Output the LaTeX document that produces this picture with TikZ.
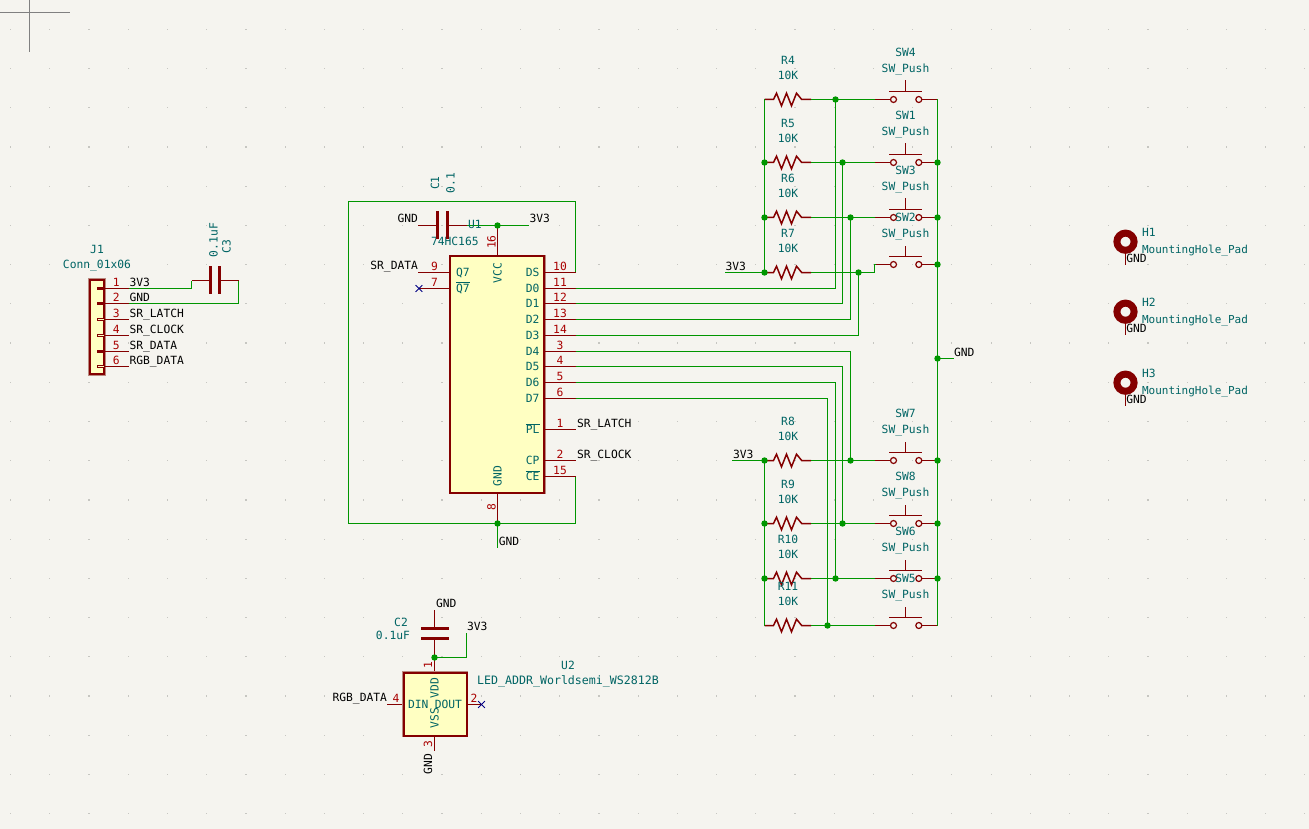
\documentclass[tikz,border=0pt]{standalone}
\usepackage{fontspec}
\usetikzlibrary{calc}
\setmainfont{DejaVu Sans Mono}
\definecolor{bgc}{HTML}{F5F4EF}
\definecolor{gridc}{HTML}{C6C6C1}
\definecolor{wirec}{HTML}{009600}
\definecolor{pinc}{HTML}{840000}
\definecolor{haloc}{HTML}{B98A80}
\definecolor{numc}{HTML}{A90000}
\definecolor{tealc}{HTML}{006464}
\definecolor{bodyc}{HTML}{FFFFC2}
\definecolor{ncc}{HTML}{000084}
\newcommand\ovl[1]{\leavevmode\vbox{\hrule height .6pt\kern.9pt\hbox{#1}}}
\tikzset{
  every node/.style={inner sep=0pt,outer sep=0pt,text height=8pt,text depth=0pt,font=\fontsize{11.3}{12}\selectfont},
  wire/.style={draw=wirec,line width=1.5pt,line join=miter},
  pin/.style={draw=pinc,line width=1.5pt},
  plate/.style={draw=pinc,line width=3pt},
  bodybox/.style={draw=pinc,fill=bodyc,line width=2pt,preaction={draw=haloc,line width=3.4pt}},
  junc/.style={fill=wirec,draw=none},
  lbl/.style={text=black},
  refx/.style={text=tealc},
  num/.style={text=numc},
  vert/.style={rotate=90},
  nc/.style={draw=ncc,line width=.9pt},
}
\newcommand\J[1]{\fill[junc] (#1) circle (3.2pt);}
\newcommand\Res[2]{%
  \coordinate (R#1a) at (764.5,#2);
  \coordinate (R#1b) at (811,#2);
  \draw[pin] (R#1a) -- ++(9,0) -- ++(3,-6.3) -- ++(5,12.6) -- ++(5,-12.6) -- ++(5,12.6) -- ++(5,-12.6) -- ++(5.2,6.3) -- (R#1b);
}
\newcommand\ResT[2]{%
  \node[refx] (Rn#1) at (788,#2-39) {R#1};
  \node[refx] (Rv#1) at (788,#2-23.6) {10K};
}
\newcommand\Sw[2]{%
  \coordinate (S#1a) at (875,#2);
  \coordinate (S#1b) at (937.5,#2);
  \coordinate (S#1c) at (893.5,#2);
  \coordinate (S#1d) at (918.8,#2);
  \draw[pin] (S#1a) -- ++(15.5,0);
  \draw[pin] (S#1b) -- ++(-15.7,0);
  \draw[pin,line width=1.2pt] (S#1c) circle (3pt);
  \draw[pin,line width=1.2pt] (S#1d) circle (3pt);
  \draw[pin] (889,#2-8) -- (922,#2-8);
  \draw[pin] (905.5,#2-8) -- (905.5,#2-19);
}
\newcommand\SwT[2]{%
  \node[refx] (Sn#1) at (905.5,#2-46.8) {SW#1};
  \node[refx] (Sv#1) at (905.5,#2-31.2) {SW\_Push};
}
\newcommand\Upin[4]{%
  \coordinate (U#1a) at (544,#2);
  \coordinate (U#1) at (575.5,#2);
  \draw[pin] (U#1a) -- (U#1);
  \node[refx,anchor=east] (Un#1) at (539.5,#2) {#3};
  \node[num] (Um#1) at (560,#2-6.5) {#4};
}
\newcommand\Mh[2]{%
  \coordinate (H#1) at (1125.5,#2);
  \coordinate (H#1s) at (1125.5,#2+23.5);
  \draw[pin] (H#1) -- (H#1s);
  \draw[draw=pinc,line width=7pt,fill=bgc] (H#1) circle (8.6pt);
  \node[refx,anchor=west] (Hn#1) at (1142,#2-8.8) {H#1};
  \node[refx,anchor=west,font=\fontsize{11}{12}\selectfont] (Hv#1) at (1142,#2+7.6) {MountingHole\_Pad};
  \node[lbl,anchor=west] (Hg#1) at (1126.3,#2+16.5) {GND};
}
\begin{document}
\begin{tikzpicture}[x=1pt,y=-1pt]
\useasboundingbox (0,0) rectangle (1309,829);
\fill[bgc] (0,0) rectangle (1309,829);
% grid
\foreach \i in {0,...,33}{\foreach \k in {0,...,20}{
  \fill[gridc] ({10.6+39.22*\i-.6},{29.3+39.22*\k-.6}) rectangle ++(1.2,1.2);
}}
% cursor
\draw[draw=gray,line width=1pt] (29.5,0) -- (29.5,52.5);
\draw[draw=gray,line width=1pt] (0,12.5) -- (70,12.5);

% ---------- U1 coordinates
\coordinate (vccT) at (497.5,225.5);
\coordinate (vccB) at (497.5,256);
\coordinate (gndT) at (497.5,492);
\coordinate (gndB) at (497.5,523.5);
\coordinate (gndL) at (497.5,547.7);
\coordinate (c1a) at (418,225.5);
\coordinate (c1b) at (466.7,225.5);
\coordinate (c1p) at (529,225.5);
\coordinate (loopA) at (575.5,201.5);
\coordinate (loopB) at (348.5,201.5);
\coordinate (loopC) at (348.5,523.5);
\coordinate (ceC) at (575.5,523.5);

% ---------- wires around U1
\draw[wire] (c1b) -- (c1p);
\draw[wire] (575.5,272.5) -- (loopA) -- (loopB) -- (loopC) -- (ceC) -- (575.5,476.5);
\draw[wire] (gndB) -- (gndL);

% ---------- U1 pins
\draw[pin] (vccB) -- (vccT);
\draw[pin] (gndT) -- (gndB);
\draw[pin] (450,272.5) -- (418,272.5);
\draw[pin] (450,288.5) -- (418.9,288.5);
\coordinate (ncA) at (418.9,288.5);
\draw[nc] ($(ncA)+(-3.4,-3.4)$) -- ($(ncA)+(3.4,3.4)$);
\draw[nc] ($(ncA)+(-3.4,3.4)$) -- ($(ncA)+(3.4,-3.4)$);
\draw[bodybox] (450.3,256.3) rectangle (544.3,492.5);
\Upin{DS}{272.5}{DS}{10}
\Upin{D0}{288.5}{D0}{11}
\Upin{D1}{303.5}{D1}{12}
\Upin{D2}{319.5}{D2}{13}
\Upin{D3}{335.5}{D3}{14}
\Upin{D4}{351.5}{D4}{3}
\Upin{D5}{366.5}{D5}{4}
\Upin{D6}{382.5}{D6}{5}
\Upin{D7}{398.5}{D7}{6}
\Upin{PL}{429.5}{\ovl{PL}}{1}
\Upin{CP}{460.5}{CP}{2}
\Upin{CE}{476.5}{\ovl{CE}}{15}
\node[refx,anchor=west] (nQ) at (456,272.3) {Q7};
\node[refx,anchor=west] (nQb) at (456,288) {\ovl{Q7}};
\node[refx,vert] (nV) at (497.5,273) {VCC};
\node[refx,vert] (nG) at (497.5,476) {GND};
\node[num] (n9) at (434.5,266.3) {9};
\node[num] (n7) at (434.5,282) {7};
\node[num,vert] (n16) at (491.5,242) {16};
\node[num,vert] (n8) at (491.5,507.5) {8};
\node[refx,anchor=west] (tU1) at (468,225) {U1};
\node[refx,anchor=west] (tU1v) at (431,241) {74HC165};
\node[lbl,anchor=east] (lSD) at (418,265.5) {SR\_DATA};
\node[lbl,anchor=west] (lSL) at (577,423) {SR\_LATCH};
\node[lbl,anchor=west] (lSC) at (577,454) {SR\_CLOCK};
\node[lbl,anchor=west] (lG1) at (498.8,541) {GND};

% ---------- C1
\draw[pin] (c1a) -- (437.5,225.5);
\draw[pin] (447.5,225.5) -- (c1b);
\draw[plate] (437.5,211) -- (437.5,239);
\draw[plate] (447.5,211) -- (447.5,239);
\node[refx,vert] (tC1) at (435,183) {C1};
\node[refx,vert] (tC1v) at (450.5,183) {0.1};
\node[lbl,anchor=east] (lG2) at (418,218.5) {GND};
\node[lbl,anchor=west] (l33a) at (529.5,218.5) {3V3};
\J{vccT} \J{gndB}

% ---------- J1
\draw[wire] (129,288.5) -- (191.5,288.5) -- (191.5,280.5);
\draw[wire] (129,303.5) -- (238.5,303.5) -- (238.5,280.5);
\draw[pin] (191.5,280.5) -- (210.5,280.5);
\draw[pin] (219.5,280.5) -- (238.5,280.5);
\draw[plate] (210.5,266) -- (210.5,294.3);
\draw[plate] (219.5,266) -- (219.5,294.3);
\node[refx,vert] (tC3) at (226.7,246.5) {C3};
\node[refx,vert] (tC3v) at (213.5,240) {0.1uF};
\draw[bodybox] (89.5,280) rectangle (104.3,374.3);
\foreach \n/\y/\t/\f in {1/288.5/3V3/pinc,2/303.5/GND/pinc,3/319.5/SR\_LATCH/bodyc,4/335.5/SR\_CLOCK/bodyc,5/351.5/SR\_DATA/pinc,6/366.5/RGB\_DATA/bodyc}{
  \draw[pin] (104.2,\y) -- (129,\y);
  \draw[draw=pinc,line width=.8pt,fill=\f] (97.5,\y-.9) rectangle (104.2,\y+.9);
  \node[num] (Jn\n) at (116.3,\y-6.3) {\n};
  \node[lbl,anchor=west] (Jl\n) at (129.5,\y-6.3) {\t};
}
\node[refx] (tJ1) at (97,249) {J1};
\node[refx] (tJ1v) at (97,265) {Conn\_01x06};

% ---------- C2 / U2
\coordinate (c2t) at (434.5,610);
\coordinate (c2b) at (434.5,657.5);
\coordinate (c2p) at (466.5,633.3);
\coordinate (u2top) at (434.5,672.3);
\coordinate (u2din) at (387.3,704.5);
\coordinate (u2dout) at (481.5,704.5);
\coordinate (u2bot) at (434.5,751);
\draw[wire] (c2b) -- (466.5,657.5) -- (c2p);
\draw[pin] (c2t) -- (434.5,628.5);
\draw[pin] (434.5,638.5) -- (c2b);
\draw[plate] (421,628.5) -- (449,628.5);
\draw[plate] (421,638.5) -- (449,638.5);
\draw[pin] (c2b) -- (u2top);
\draw[pin] (u2din) -- (403.3,704.5);
\draw[pin] (466.7,704.5) -- (u2dout);
\draw[pin] (434.5,735.3) -- (u2bot);
\draw[bodybox] (403.5,672.5) rectangle (466.7,735.5);
\draw[nc] ($(u2dout)+(-3.4,-3.4)$) -- ($(u2dout)+(3.4,3.4)$);
\draw[nc] ($(u2dout)+(-3.4,3.4)$) -- ($(u2dout)+(3.4,-3.4)$);
\J{c2b}
\node[refx,anchor=west] (nDI) at (408,704) {DIN};
\node[refx,anchor=east] (nDO) at (462,704) {DOUT};
\node[refx,vert] (nVD) at (434.5,688) {VDD};
\node[refx,vert] (nVS) at (434.5,718) {VSS};
\node[num,vert] (m1) at (428,665) {1};
\node[num] (m4) at (396,698) {4};
\node[num] (m2) at (474,698) {2};
\node[num,vert] (m3) at (428,744) {3};
\node[lbl,anchor=east] (lRGB) at (387,697.5) {RGB\_DATA};
\node[lbl,vert] (lG3) at (428,764) {GND};
\node[lbl,anchor=west] (lG4) at (436,603) {GND};
\node[lbl,anchor=west] (l33b) at (467,626) {3V3};
\node[refx] (tC2) at (401,622) {C2};
\node[refx,anchor=east] (tC2v) at (410,635.5) {0.1uF};
\node[refx] (tU2) at (568,665) {U2};
\node[refx,font=\fontsize{11.6}{12}\selectfont] (tU2v) at (568,680) {LED\_ADDR\_Worldsemi\_WS2812B};

% ---------- resistors and switches
\Res{4}{99.5}
\Res{5}{162.5}
\Res{6}{217.5}
\Res{7}{272.5}
\Res{8}{460.5}
\Res{9}{523.5}
\Res{10}{578.5}
\Res{11}{625.5}
\Sw{4}{99.5}
\Sw{1}{162.5}
\Sw{3}{217.5}
\Sw{2}{264.5}
\Sw{7}{460.5}
\Sw{8}{523.5}
\Sw{6}{578.5}
\Sw{5}{625.5}
\coordinate (gndN) at (937.5,358.5);
\coordinate (gndE) at (953.5,358.5);
\coordinate (p33a) at (725,272.5);
\coordinate (p33b) at (732,460.5);
\draw[wire] (R4a) -- (R7a);
\draw[wire] (R8a) -- (R11a);
\draw[wire] (p33a) -- (R7a);
\draw[wire] (p33b) -- (R8a);
\draw[wire] (S4b) -- (S5b);
\draw[wire] (gndN) -- (gndE);
\draw[wire] (R4b) -- (S4a);
\draw[wire] (R5b) -- (S1a);
\draw[wire] (R6b) -- (S3a);
\draw[wire] (R7b) -- (874.5,272.5) -- (874.5,264.5) -- (S2a);
\draw[wire] (R8b) -- (S7a);
\draw[wire] (R9b) -- (S8a);
\draw[wire] (R10b) -- (S6a);
\draw[wire] (R11b) -- (S5a);
\draw[wire] (UD0) -| (835.5,99.5);
\draw[wire] (UD1) -| (842.5,162.5);
\draw[wire] (UD2) -| (850.5,217.5);
\draw[wire] (UD3) -| (858.5,272.5);
\draw[wire] (UD4) -| (850.5,460.5);
\draw[wire] (UD5) -| (842.5,523.5);
\draw[wire] (UD6) -| (835.5,578.5);
\draw[wire] (UD7) -| (827.5,625.5);
\foreach \p in {R5a,R6a,R7a,R8a,R9a,R10a,S1b,S3b,S2b,S7b,S8b,S6b,gndN}{\J{\p}}
\foreach \x/\y in {835.5/99.5,842.5/162.5,850.5/217.5,858.5/272.5,850.5/460.5,842.5/523.5,835.5/578.5,827.5/625.5}{\fill[junc] (\x,\y) circle (3.2pt);}
\foreach \n/\y in {4/99.5,5/162.5,6/217.5,7/272.5,8/460.5,9/523.5,10/578.5,11/625.5}{\ResT{\n}{\y}}
\foreach \n/\y in {4/99.5,1/162.5,3/217.5,2/264.5,7/460.5,8/523.5,6/578.5,5/625.5}{\SwT{\n}{\y}}
\node[lbl,anchor=west] (lG5) at (954,352) {GND};
\node[lbl,anchor=west] (l33c) at (725.5,266) {3V3};
\node[lbl,anchor=west] (l33d) at (733,454) {3V3};

% ---------- mounting holes
\Mh{1}{241.7}
\Mh{2}{311.7}
\Mh{3}{382.7}
\end{tikzpicture}
\end{document}
